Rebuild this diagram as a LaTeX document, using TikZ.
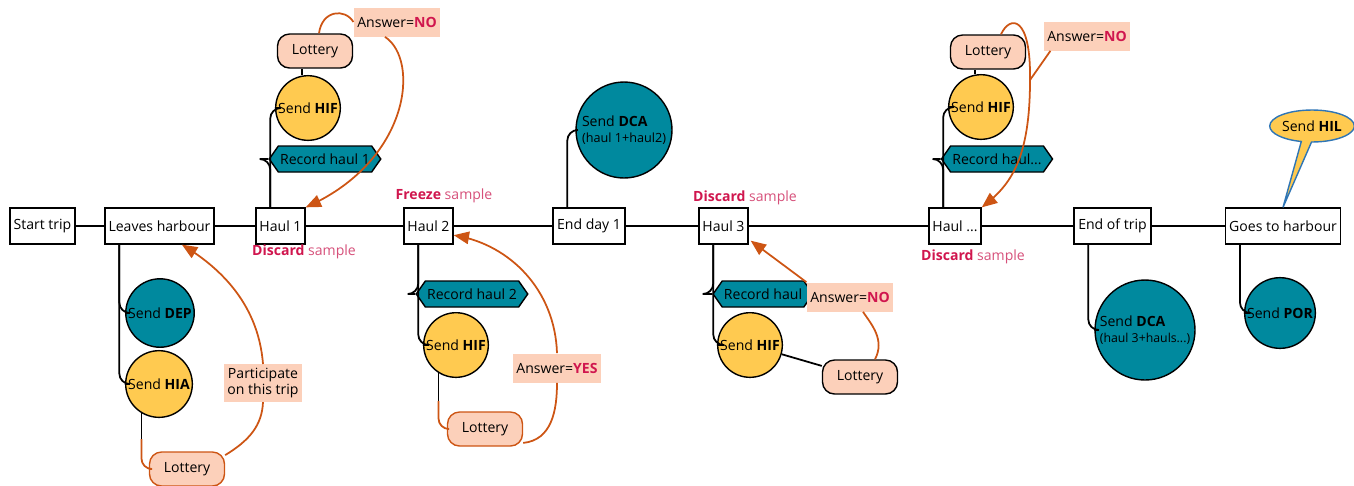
\documentclass[tikz,border=0pt]{standalone}
\usepackage{fontspec}
\setmainfont{Open Sans}
\usepackage{tikz}
\usetikzlibrary{arrows,shapes.symbols,shapes.callouts}

\definecolor{tealc}{RGB}{0,137,158}
\definecolor{yellowc}{RGB}{255,202,80}
\definecolor{peach}{RGB}{252,208,186}
\definecolor{orangec}{RGB}{205,85,20}
\definecolor{crimson}{RGB}{208,22,78}
\definecolor{pinkc}{RGB}{214,80,122}
\definecolor{bluec}{RGB}{46,117,182}

\begin{document}
\begin{tikzpicture}[x=0.02cm,y=-0.02cm,font=\fontsize{8}{9.5}\selectfont,
  stage/.style={draw,thick,fill=white,minimum height=0.72cm,inner xsep=2pt},
  tealdot/.style={circle,draw,thick,fill=tealc,inner sep=1pt},
  yellowdot/.style={circle,draw,thick,fill=yellowc,inner sep=1pt,minimum size=1.2cm},
  lottery/.style={draw,thick,rounded corners=0.24cm,fill=peach,minimum width=1.5cm,minimum height=0.68cm},
  record/.style={signal,signal to=west and east,signal pointer angle=110,draw,thick,fill=tealc,minimum height=0.52cm,inner xsep=1pt},
  answer/.style={fill=peach,minimum width=1.4cm,minimum height=0.58cm,inner sep=2pt},
  note/.style={text=pinkc,inner sep=1pt},
  conn/.style={line width=1pt},
  loop/.style={draw=orangec,line width=1pt}]
\useasboundingbox (0,0) rectangle (1354,485);

% the trip line
\node[stage,minimum width=1.3cm] (tripstart) at (42.5,226) {Start trip};
\node[stage,minimum width=2.14cm] (leaves) at (159.5,226) {Leaves harbour};
\node[stage,minimum width=0.98cm] (haul1) at (280.5,226) {Haul 1};
\node[stage,minimum width=0.98cm] (haul2) at (428.5,226) {Haul 2};
\node[stage,minimum width=1.44cm] (day1) at (589,226) {End day 1};
\node[stage,minimum width=0.98cm] (haul3) at (723.5,226) {Haul 3};
\node[stage,minimum width=1.04cm] (haul4) at (955,226) {Haul ...};
\node[stage,minimum width=1.54cm] (tripend) at (1112.5,226) {End of trip};
\node[stage,minimum width=2.28cm] (goes) at (1283,226) {Goes to harbour};
\draw[conn] (tripstart) -- (leaves) -- (haul1) -- (haul2) -- (day1) -- (haul3) -- (haul4) -- (tripend) -- (goes);

\node[note] (disc1) at (304,252) {\textcolor{crimson}{\textbf{Discard}} sample};
\node[note] (freeze) at (444,196) {\textcolor{crimson}{\textbf{Freeze}} sample};
\node[note] (disc3) at (745,198) {\textcolor{crimson}{\textbf{Discard}} sample};
\node[note] (disc4) at (973,257) {\textcolor{crimson}{\textbf{Discard}} sample};

% leaves harbour
\node[tealdot,minimum size=1.28cm] (dep) at (160,313) {Send \textbf{DEP}};
\node[yellowdot,minimum size=1.24cm] (hia) at (159,384) {Send \textbf{HIA}};
\node[lottery,draw=orangec] (lot1) at (187,469) {Lottery};
\node[answer,align=center,minimum width=1.3cm] (part) at (263,383) {Participate\\ on this trip};
\draw[conn,rounded corners=6pt] ([xshift=0.3cm]leaves.south west) |- (dep);
\draw[conn,rounded corners=6pt] ([xshift=0.3cm]leaves.south west) |- (hia);
\draw[conn] (hia.-121) -- ++(0,26) coordinate (hiaend);
\draw[loop,rounded corners=6pt] (hiaend) |- (lot1);
\draw[loop] (lot1.20) .. controls (250,440) and (262,425) .. (part.south);
\draw[loop,-triangle 45] (part.north) .. controls (258,300) and (215,265) .. ([xshift=0.45cm]leaves.south);

% haul 1
\node[yellowdot] (hif1) at (308,108) {Send \textbf{HIF}};
\node[record,minimum width=1.86cm] (rec1) at (325,159) {Record haul 1};
\node[lottery] (lot2) at (315,51) {Lottery};
\node[answer] (ans1) at (397,22) {Answer=\textcolor{crimson}{\textbf{NO}}};
\draw[conn,rounded corners=6pt] ([xshift=0.3cm]haul1.north west) |- (hif1);
\draw[conn,rounded corners=6pt] ([xshift=0.3cm]haul1.north west) |- (rec1);
\draw[conn] (hif1.100) -- (hif1.100 |- lot2.south);
\draw[loop] ([xshift=0.08cm]lot2.north) .. controls (322,10) and (345,8) .. (ans1.west);
\draw[loop,-triangle 45] ([xshift=-0.24cm]ans1.south) .. controls (420,60) and (410,160) .. (haul1.north east);

% haul 2
\node[record,minimum width=1.88cm] (rec2) at (472,294) {Record haul 2};
\node[yellowdot] (hif2) at (456,345) {Send \textbf{HIF}};
\node[lottery,draw=orangec] (lot3) at (485,429) {Lottery};
\node[answer] (ans2) at (557,368) {Answer=\textcolor{crimson}{\textbf{YES}}};
\draw[conn,rounded corners=6pt] ([xshift=0.3cm]haul2.south west) |- (rec2);
\draw[conn,rounded corners=6pt] ([xshift=0.3cm]haul2.south west) |- (hif2);
\draw[conn] (hif2.-122) -- ++(0,28) coordinate (hif2end);
\draw[loop,rounded corners=6pt] (hif2end) |- (lot3);
\draw[loop] (lot3.-20) .. controls (552,440) and (557,410) .. (ans2.south);
\draw[loop,-triangle 45] (ans2.north) .. controls (555,290) and (510,245) .. (haul2.-20);

% end day 1
\node[tealdot,minimum size=1.92cm,align=left] (dca1) at (624,130) {Send \textbf{DCA}\\{\fontsize{7.2}{9}\selectfont(haul 1+haul2)}};
\draw[conn,rounded corners=6pt] ([xshift=0.3cm]day1.north west) |- (dca1);

% haul 3
\node[record,minimum width=1.66cm] (rec3) at (763,294) {Record haul};
\node[yellowdot] (hif3) at (750,345) {Send \textbf{HIF}};
\node[lottery] (lot4) at (860,377) {Lottery};
\node[answer] (ans3) at (850,297) {Answer=\textcolor{crimson}{\textbf{NO}}};
\draw[conn,rounded corners=6pt] ([xshift=0.3cm]haul3.south west) |- (rec3);
\draw[conn,rounded corners=6pt] ([xshift=0.3cm]haul3.south west) |- (hif3);
\draw[conn] (hif3) -- (lot4);
\draw[loop] ([xshift=0.3cm]lot4.north) .. controls (885,340) and (872,325) .. ([xshift=0.26cm]ans3.south);
\draw[loop,-triangle 45] (ans3.north west) -- ([shift={(0.04cm,0.08cm)}]haul3.south east);

% haul ...
\node[yellowdot] (hif4) at (981,107) {Send \textbf{HIF}};
\node[record,minimum width=1.82cm] (rec4) at (997,159) {Record haul...};
\node[lottery] (lot5) at (988,52) {Lottery};
\node[answer] (ans4) at (1087,36) {Answer=\textcolor{crimson}{\textbf{NO}}};
\draw[conn,rounded corners=6pt] ([xshift=0.3cm]haul4.north west) |- (hif4);
\draw[conn,rounded corners=6pt] ([xshift=0.3cm]haul4.north west) |- (rec4);
\draw[conn] (hif4.100) -- (hif4.100 |- lot5.south);
\draw[loop,-triangle 45] ([xshift=0.26cm]lot5.north) .. controls (1010,15) and (1031,15) .. (1030,80) coordinate (j4)
  .. controls (1030,160) and (1010,185) .. (haul4.north east);
\draw[loop] ([xshift=0.14cm]ans4.south west) -- (j4);

% end of trip, harbour
\node[tealdot,minimum size=2cm,align=left] (dca2) at (1145,330) {Send \textbf{DCA}\\{\fontsize{7}{9}\selectfont(haul 3+hauls...)}};
\node[tealdot,minimum size=1.3cm] (por) at (1280,313) {Send \textbf{POR}};
\draw[conn,rounded corners=6pt] ([xshift=0.3cm]tripend.south west) |- (dca2);
\draw[conn,rounded corners=6pt] ([xshift=0.3cm]goes.south west) |- (por);
\node[ellipse callout,draw=bluec,thick,fill=yellowc,minimum width=1.54cm,minimum height=0.64cm,inner sep=0pt,
  callout absolute pointer={(goes.north)},callout pointer arc=14] (hil) at (1312,126) {Send \textbf{HIL}};
\end{tikzpicture}
\end{document}
